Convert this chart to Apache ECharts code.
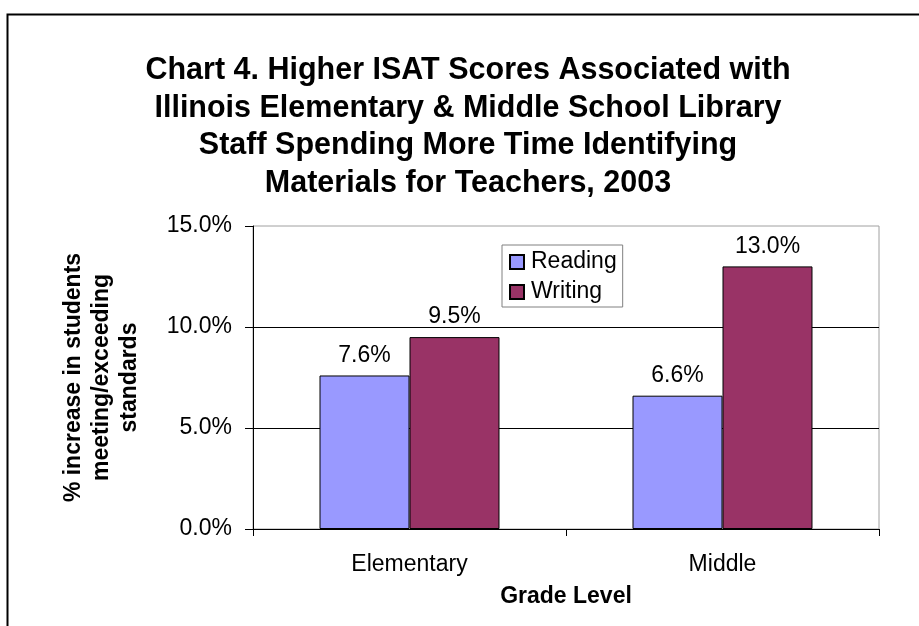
<!DOCTYPE html>
<html>
<head>
<meta charset="utf-8">
<script src="https://cdn.jsdelivr.net/npm/echarts@6/dist/echarts.min.js"></script>
<style>html,body{margin:0;padding:0;background:#fff}#c{width:919px;height:626px}</style>
</head>
<body>
<div id="c"></div>
<script>
var categories = ['Elementary', 'Middle'];
var readingValues = [7.6, 6.6];
var writingValues = [9.5, 13.0];
var seriesNames = ['Reading', 'Writing'];
var yTicks = [0, 5, 10, 15];
var titleText = 'Chart 4. Higher ISAT Scores Associated with\nIllinois Elementary & Middle School Library\nStaff Spending More Time Identifying\nMaterials for Teachers, 2003';
var yAxisTitle = '% increase in students\nmeeting/exceeding\nstandards';
var xAxisTitle = 'Grade Level';

var FONT = 'Liberation Sans, Arial, sans-serif';
var chart = echarts.init(document.getElementById('c'), null, {renderer: 'canvas'});
var option = {
  animation: false,
  backgroundColor: '#fff',
  title: {
    text: titleText,
    left: 463,
    top: 47,
    textAlign: 'center',
    textStyle: {fontFamily: FONT, fontSize: 30.5, fontWeight: 'bold', color: '#000', lineHeight: 37.5}
  },
  graphic: [{
    type: 'rect', left: 5, top: 12, z: -1,
    shape: {width: 1000, height: 1000},
    style: {fill: 'none', stroke: '#000', lineWidth: 2}
  }],
  legend: {
    data: seriesNames,
    orient: 'vertical',
    left: 502, top: 245,
    padding: [5, 6, 3, 7],
    itemGap: 6,
    itemWidth: 14, itemHeight: 14,
    icon: 'rect',
    backgroundColor: '#fff',
    borderColor: '#808080', borderWidth: 1,
    textStyle: {fontFamily: FONT, fontSize: 23, color: '#000', lineHeight: 24, padding: [0, 0, 0, 2]}
  },
  grid: {left: 253, right: 40, top: 226, bottom: 97, show: true, borderColor: '#a0a0a0', borderWidth: 1, backgroundColor: 'transparent'},
  xAxis: {
    type: 'category',
    data: categories,
    name: xAxisTitle,
    nameLocation: 'middle',
    nameGap: 54,
    nameTextStyle: {fontFamily: FONT, fontSize: 23, fontWeight: 'bold', color: '#000', lineHeight: 28},
    axisLine: {lineStyle: {color: '#000', width: 1}},
    axisTick: {show: true, length: 7, alignWithLabel: false, lineStyle: {color: '#000'}},
    axisLabel: {fontFamily: FONT, fontSize: 23, color: '#000', margin: 22, lineHeight: 28},
    splitLine: {show: false}
  },
  yAxis: {
    type: 'value',
    min: yTicks[0], max: yTicks[yTicks.length - 1], interval: 5,
    name: yAxisTitle,
    nameLocation: 'middle',
    nameRotate: 90,
    nameGap: 109,
    nameTextStyle: {fontFamily: FONT, fontSize: 23, fontWeight: 'bold', color: '#000', lineHeight: 28, align: 'center'},
    axisLine: {show: true, lineStyle: {color: '#000', width: 1}},
    axisTick: {show: true, length: 8, inside: false, lineStyle: {color: '#000'}},
    axisLabel: {fontFamily: FONT, fontSize: 23, color: '#000', margin: 21, formatter: function (v) { return v.toFixed(1) + '%'; }},
    splitLine: {show: true, showMaxLine: false, showMinLine: false, lineStyle: {color: '#000', width: 1}}
  },
  series: [
    {
      name: seriesNames[0], type: 'bar', data: readingValues,
      barGap: '0%', barCategoryGap: '42.5%',
      itemStyle: {color: '#9999ff', borderColor: '#000', borderWidth: 1},
      label: {show: true, position: 'top', distance: 6, fontFamily: FONT, fontSize: 23, color: '#000', lineHeight: 28, formatter: function (p) { return p.value.toFixed(1) + '%'; }}
    },
    {
      name: seriesNames[1], type: 'bar', data: writingValues,
      barGap: '0%', barCategoryGap: '42.5%',
      itemStyle: {color: '#993366', borderColor: '#000', borderWidth: 1},
      label: {show: true, position: 'top', distance: 6, fontFamily: FONT, fontSize: 23, color: '#000', lineHeight: 28, formatter: function (p) { return p.value.toFixed(1) + '%'; }}
    }
  ]
};
chart.setOption(option);
</script>
</body>
</html>
